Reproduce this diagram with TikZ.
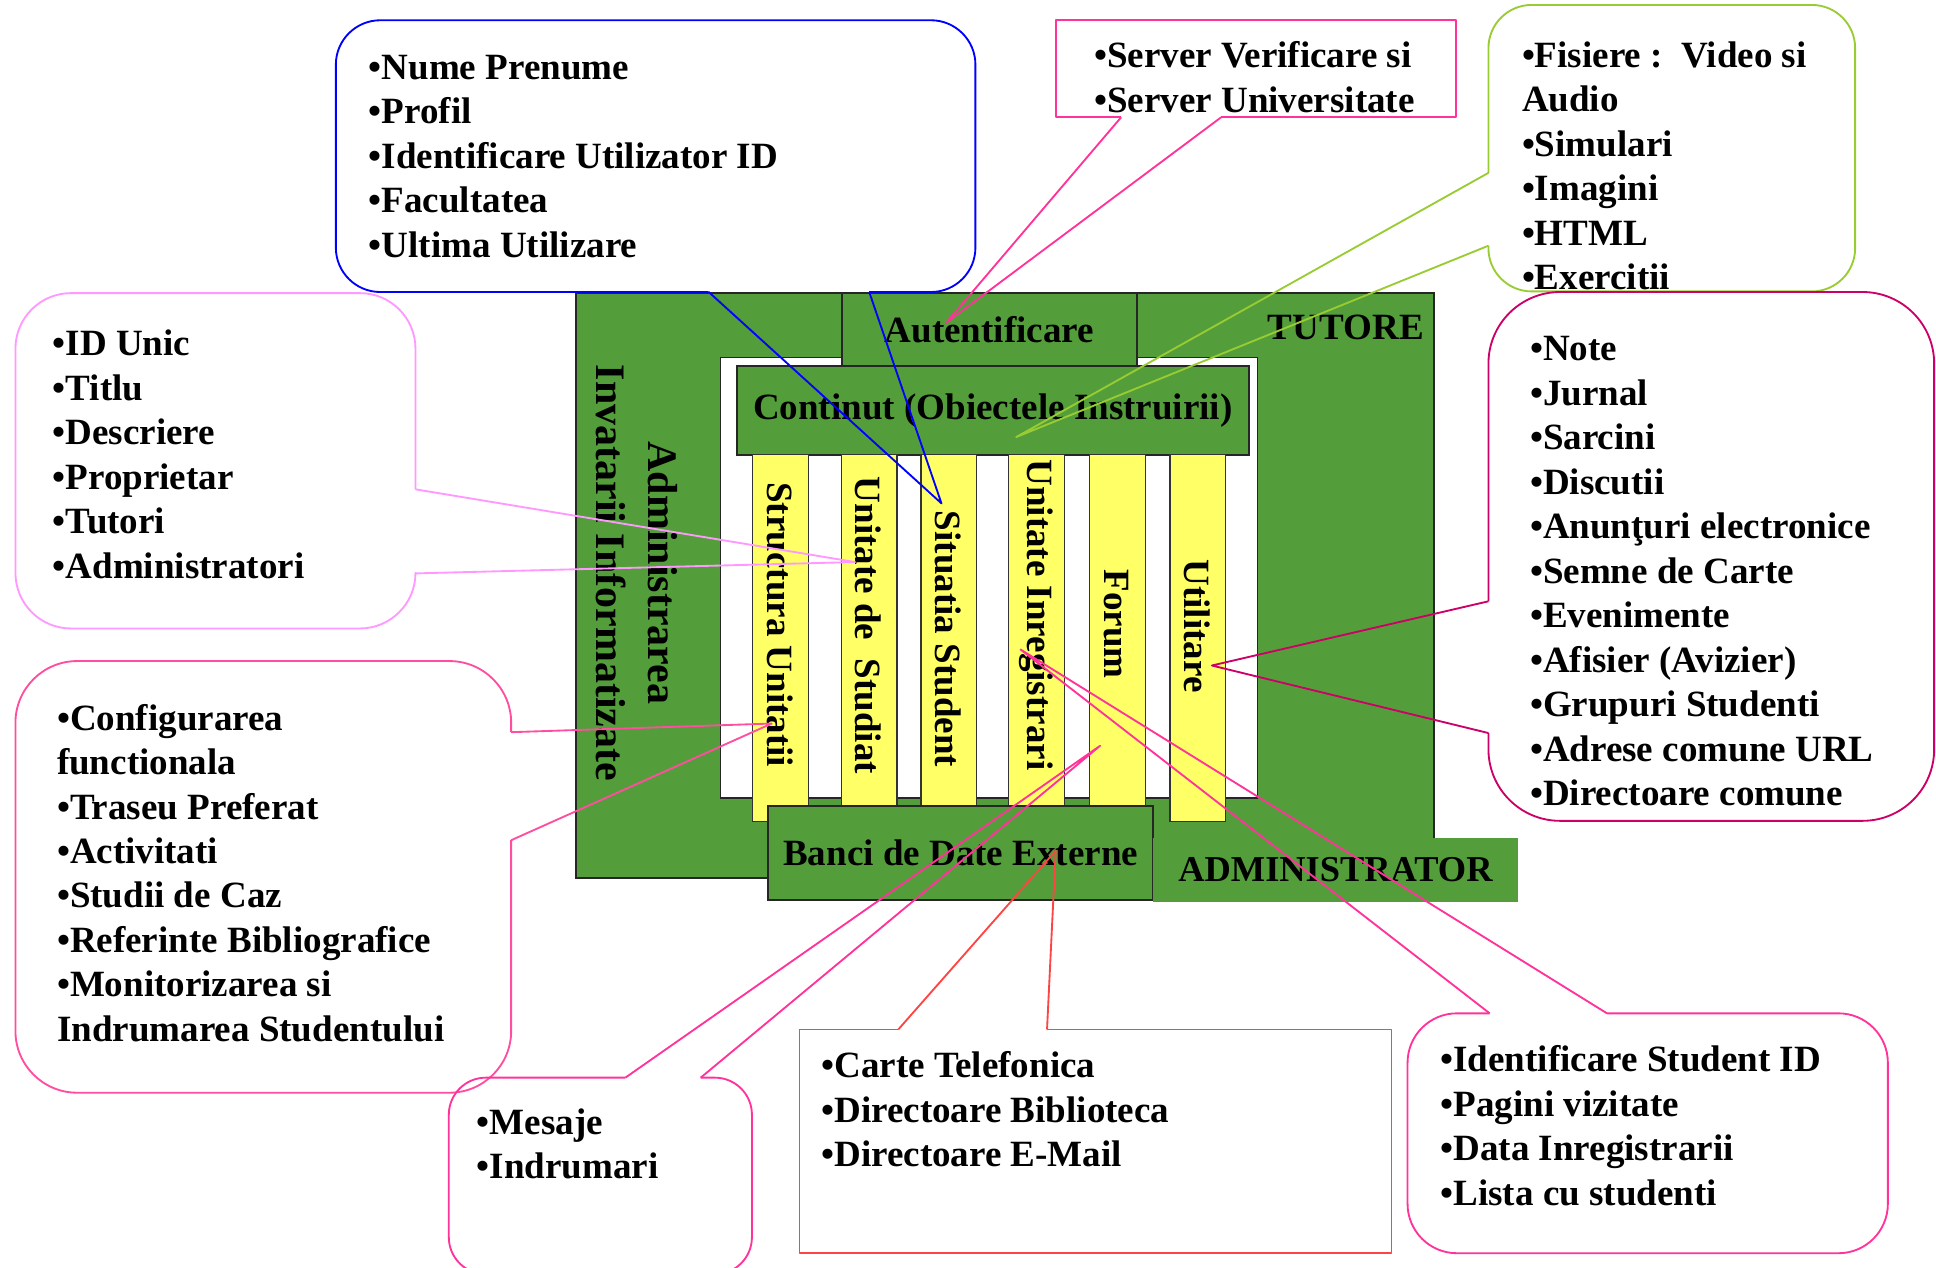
\documentclass[tikz,border=0pt]{standalone}
\usepackage{fontspec}
\setmainfont{Liberation Serif}
\definecolor{ngreen}{RGB}{83,158,58}
\definecolor{nyellow}{RGB}{255,255,102}
\definecolor{profc}{RGB}{0,0,255}
\definecolor{unitc}{RGB}{255,153,255}
\definecolor{servc}{RGB}{255,51,153}
\definecolor{filec}{RGB}{153,204,51}
\definecolor{notec}{RGB}{204,0,102}
\definecolor{confc}{RGB}{255,77,160}
\definecolor{cartec}{RGB}{255,68,68}
\begin{document}
\begin{tikzpicture}[
        x=1pt, y=-1pt,
        items/.style={anchor=north west, inner sep=0pt, align=left, font=\fontsize{30}{36}\selectfont\bfseries},
        lbl/.style={inner sep=0pt, font=\fontsize{30}{36}\selectfont\bfseries},
        vlbl/.style={lbl, rotate=-90},
        block/.style={draw=black!85, line width=1.6pt, fill=ngreen, anchor=north west, inner sep=0pt},
        bar/.style={draw=black!80, line width=1pt, fill=nyellow, anchor=north west, minimum width=45pt, minimum height=297pt, inner sep=0pt},
        balloon/.style={line width=1.5pt, line join=round}
    ]
        \useasboundingbox (0,0) rectangle (1568,1026.2);

        % Platform blocks
        \node[block, minimum width=694.5pt, minimum height=474pt] (platform) at (466,236.5) {};
        \node[block, fill=white, line width=1.2pt, minimum width=435.2pt, minimum height=356.8pt] (core) at (582.8,289) {};
        \node[block, minimum width=239pt, minimum height=59.1pt, font=\fontsize{30}{36}\selectfont\bfseries] (auth) at (681,236.5) {Autentificare};
        \node[block, minimum width=414.5pt, minimum height=72.1pt, font=\fontsize{30}{36}\selectfont\bfseries] (cont) at (596,295.6) {Continut (Obiectele Instruirii)};

        \node[bar] (barStruct) at (609,367.7) {};
        \node[bar] (barUnit) at (681,367.7) {};
        \node[bar] (barSit) at (745.5,367.7) {};
        \node[bar] (barInreg) at (816.5,367.7) {};
        \node[bar] (barForum) at (882,367.7) {};
        \node[bar] (barUtil) at (947,367.7) {};

        \node[block, minimum width=311.4pt, minimum height=76pt, font=\fontsize{30}{36}\selectfont\bfseries] (banci) at (621.6,652) {Banci de Date Externe};
        \node[block, draw=none, minimum width=295.6pt, minimum height=51.9pt, font=\fontsize{29.5}{35}\selectfont\bfseries] (admin) at (933,677.6) {ADMINISTRATOR};

        \node[lbl] (tutLbl) at (1090,265) {TUTORE};
        \node[vlbl, align=center, font=\fontsize{34}{42.5}\selectfont\bfseries] (adminLbl) at (516,464) {Administrarea\\Invatarii Informatizate};

        \node[vlbl] (lblStruct) at (631.5,506) {Structura Unitatii};
        \node[vlbl] (lblUnit) at (703.5,506.5) {Unitate de\ \ Studiat};
        \node[vlbl] (lblSit) at (768,517.5) {Situatia Student};
        \node[vlbl] (lblInreg) at (839,498) {Unitate Inregistrari};
        \node[vlbl] (lblForum) at (904.5,505.6) {Forum};
        \node[vlbl] (lblUtil) at (969.5,507) {Utilitare};

        % Callout tips
        \coordinate (tipSit) at (762.5,407.7);
        \coordinate (tipUnit) at (692.5,455.2);
        \coordinate (tipAuth) at (766.4,261.3);
        \coordinate (tipCont) at (823,354);
        \coordinate (tipUtil) at (981.5,539);
        \coordinate (tipStruct) at (625,586);
        \coordinate (tipForum) at (891,604);
        \coordinate (tipBanci) at (855,689);
        \coordinate (tipInreg) at (826.5,526);

        % Callout texts
        \node[items] (profText) at (298.5,44.5) {•Nume Prenume\\•Profil\\•Identificare Utilizator ID\\•Facultatea\\•Ultima Utilizare};
        \node[items] (unitText) at (42.5,267.3) {•ID Unic\\•Titlu\\•Descriere\\•Proprietar\\•Tutori\\•Administratori};
        \node[items] (servText) at (886,33.5) {•Server Verificare si\\•Server Universitate};
        \node[items] (fileText) at (1232.5,33.5) {•Fisiere :\ \ Video si\\Audio\\•Simulari\\•Imagini\\•HTML\\•Exercitii};
        \node[items] (noteText) at (1239,272.5) {•Note\\•Jurnal\\•Sarcini\\•Discutii\\•Anunţuri electronice\\•Semne de Carte\\•Evenimente\\•Afisier (Avizier)\\•Grupuri Studenti\\•Adrese comune URL\\•Directoare comune};
        \node[items] (confText) at (46,570) {•Configurarea\\functionala\\•Traseu Preferat\\•Activitati\\•Studii de Caz\\•Referinte Bibliografice\\•Monitorizarea si\\Indrumarea Studentului};
        \node[items] (mesText) at (386,897.5) {•Mesaje\\•Indrumari};
        \node[items] (carteText) at (665,851.6) {•Carte Telefonica\\•Directoare Biblioteca\\•Directoare E-Mail};
        \node[items] (studText) at (1166.5,846.7) {•Identificare Student ID\\•Pagini vizitate\\•Data Inregistrarii\\•Lista cu studenti};

        % Callout outlines and pointers
        \draw[balloon, profc, rounded corners=36pt] (574,236.5) -- (272,236.5) -- (272,16.4) -- (790,16.4) -- (790,236.5) -- (704,236.5);
        \draw[balloon, profc] (704,236.5) -- (tipSit) -- (574,236.5);

        \draw[balloon, unitc, rounded corners=45pt] (336.5,396.3) -- (336.5,237.4) -- (12.5,237.4) -- (12.5,509) -- (336.5,509) -- (336.5,464.4);
        \draw[balloon, unitc] (336.5,464.4) -- (tipUnit) -- (336.5,396.3);

        \draw[balloon, servc] (908,95) -- (855.5,95) -- (855.5,16.4) -- (1179,16.4) -- (1179,95) -- (989,95);
        \draw[balloon, servc] (989,95) -- (tipAuth) -- (908,95);

        \draw[balloon, filec, rounded corners=35pt] (1205.5,140) -- (1205.5,4) -- (1502.5,4) -- (1502.5,236) -- (1205.5,236) -- (1205.5,199);
        \draw[balloon, filec] (1205.5,199) -- (tipCont) -- (1205.5,140);

        \draw[balloon, notec, rounded corners=58pt] (1205.5,487) -- (1205.5,236.5) -- (1566.5,236.5) -- (1566.5,664.8) -- (1205.5,664.8) -- (1205.5,593.7);
        \draw[balloon, notec] (1205.5,593.7) -- (tipUtil) -- (1205.5,487);

        \draw[balloon, confc, rounded corners=50pt] (414,593) -- (414,535.4) -- (12.5,535.4) -- (12.5,885) -- (414,885) -- (414,680.5);
        \draw[balloon, confc] (414,680.5) -- (tipStruct) -- (414,593);

        \draw[balloon, servc, rounded corners=30pt] (567.5,872.8) -- (609,872.8) -- (609,1032) -- (363.5,1032) -- (363.5,872.8) -- (506.5,872.8);
        \draw[balloon, servc] (506.5,872.8) -- (tipForum) -- (567.5,872.8);

        \draw[balloon, cartec] (727.5,833.8) -- (647.5,833.8) -- (647.5,1014.6) -- (1127,1014.6) -- (1127,833.8) -- (848,833.8);
        \draw[balloon, cartec] (848,833.8) -- (tipBanci) -- (727.5,833.8);

        \draw[balloon, servc, rounded corners=40pt] (1206.5,820.7) -- (1140,820.7) -- (1140,1015) -- (1529,1015) -- (1529,820.7) -- (1301.5,820.7);
        \draw[balloon, servc] (1301.5,820.7) -- (tipInreg) -- (1206.5,820.7);
    \end{tikzpicture}
\end{document}
